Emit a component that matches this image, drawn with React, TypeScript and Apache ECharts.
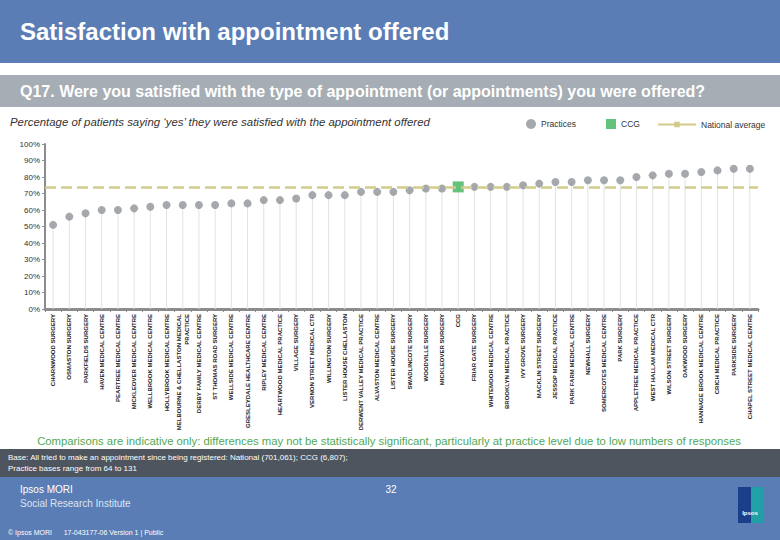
import React, { useEffect, useRef } from "react";
import * as echarts from "echarts";

const categories: string[] = [
  "CHARNWOOD SURGERY",
  "OSMASTON SURGERY",
  "PARKFIELDS SURGERY",
  "HAVEN MEDICAL CENTRE",
  "PEARTREE MEDICAL CENTRE",
  "MICKLEOVER MEDICAL CENTRE",
  "WELLBROOK MEDICAL CENTRE",
  "HOLLYBROOK MEDICAL CENTRE",
  "MELBOURNE & CHELLASTON MEDICAL\nPRACTICE",
  "DERBY FAMILY MEDICAL CENTRE",
  "ST THOMAS ROAD SURGERY",
  "WELLSIDE MEDICAL CENTRE",
  "GRESLEYDALE HEALTHCARE CENTRE",
  "RIPLEY MEDICAL CENTRE",
  "HEARTWOOD MEDICAL PRACTICE",
  "VILLAGE SURGERY",
  "VERNON STREET MEDICAL CTR",
  "WILLINGTON SURGERY",
  "LISTER HOUSE CHELLASTON",
  "DERWENT VALLEY MEDICAL PRACTICE",
  "ALVASTON MEDICAL CENTRE",
  "LISTER HOUSE SURGERY",
  "SWADLINCOTE SURGERY",
  "WOODVILLE SURGERY",
  "MICKLEOVER SURGERY",
  "CCG",
  "FRIAR GATE SURGERY",
  "WHITEMOOR MEDICAL CENTRE",
  "BROOKLYN MEDICAL PRACTICE",
  "IVY GROVE SURGERY",
  "MACKLIN STREET SURGERY",
  "JESSOP MEDICAL PRACTICE",
  "PARK FARM MEDICAL CENTRE",
  "NEWHALL SURGERY",
  "SOMERCOTES MEDICAL CENTRE",
  "PARK SURGERY",
  "APPLETREE MEDICAL PRACTICE",
  "WEST HALLAM MEDICAL CTR",
  "WILSON STREET SURGERY",
  "OAKWOOD SURGERY",
  "HANNAGE BROOK MEDICAL CENTRE",
  "CRICH MEDICAL PRACTICE",
  "PARKSIDE SURGERY",
  "CHAPEL STREET MEDICAL CENTRE",
];

// Practice results (null at the CCG position)
const practiceValues: (number | null)[] = [
  51, 56, 58, 60, 60, 61, 62, 63, 63, 63, 63, 64, 64, 66, 66, 67, 69, 69, 69,
  71, 71, 71, 72, 73, 73, null, 74, 74, 74, 75, 76, 77, 77, 78, 78, 78, 80, 81,
  82, 82, 83, 84, 85, 85,
];
const ccgName = "CCG";
const ccgValue = 74;
const nationalAverage = 74;

const FONT = '"Liberation Sans", Arial, sans-serif';

export default function App() {
  const ref = useRef<HTMLDivElement>(null);

  useEffect(() => {
    document.body.style.margin = "0";
    if (!ref.current) return;
    const chart = echarts.init(ref.current, null, { renderer: "svg" });

    const ccgIndex = categories.indexOf(ccgName);
    const ccgSeries = categories.map((_, i) => (i === ccgIndex ? ccgValue : null));
    const dropValues = categories.map((_, i) =>
      i === ccgIndex ? ccgValue : practiceValues[i]
    );

    const legendText = { color: "#333", fontSize: 8.5, fontFamily: FONT };

    chart.setOption({
      animation: false,
      backgroundColor: "#ffffff",
      textStyle: { fontFamily: FONT },
      grid: { left: 45, right: 22, top: 144, bottom: 231, containLabel: false },
      legend: [
        {
          data: ["Practices"],
          left: 526,
          top: 119,
          padding: 0,
          icon: "circle",
          itemWidth: 10,
          itemHeight: 10,
          itemGap: 4,
          textStyle: legendText,
        },
        {
          data: ["CCG"],
          left: 606,
          top: 119,
          padding: 0,
          icon: "rect",
          itemWidth: 10,
          itemHeight: 10,
          textStyle: legendText,
        },
        {
          data: ["National average"],
          left: 657,
          top: 120,
          padding: 0,
          itemWidth: 38,
          itemHeight: 7,
          textStyle: legendText,
        },
      ],
      xAxis: {
        type: "category",
        data: categories,
        boundaryGap: true,
        axisLine: { show: true, lineStyle: { color: "#8c8c8c", width: 3 } },
        axisTick: { show: true, length: 3, lineStyle: { color: "#8c8c8c" } },
        axisLabel: {
          interval: 0,
          rotate: 90,
          fontSize: 6,
          fontWeight: "bold",
          color: "#222",
          margin: 5,
          lineHeight: 8,
          fontFamily: FONT,
        },
        splitLine: { show: false },
      },
      yAxis: {
        type: "value",
        min: 0,
        max: 100,
        interval: 10,
        axisLine: { show: true, lineStyle: { color: "#8c8c8c", width: 2 } },
        axisTick: { show: true, length: 3, lineStyle: { color: "#8c8c8c" } },
        axisLabel: {
          formatter: "{value}%",
          fontSize: 8,
          color: "#333",
          margin: 5,
          fontFamily: FONT,
        },
        splitLine: { show: false },
      },
      series: [
        {
          name: "drop",
          type: "bar",
          data: dropValues,
          barWidth: 1,
          itemStyle: { color: "#e2e2e2" },
          silent: true,
          z: 1,
        },
        {
          name: "National average",
          type: "line",
          data: categories.map(() => null),
          symbol: "rect",
          symbolSize: 5,
          itemStyle: { color: "#d3cb8a" },
          lineStyle: { color: "#d3cb8a", width: 2.5 },
          z: 2,
          markLine: {
            silent: true,
            symbol: ["none", "none"],
            label: { show: false },
            lineStyle: { color: "#d3cb8a", width: 2.5, type: [11, 5] },
            data: [{ yAxis: nationalAverage }],
          },
        },
        {
          name: "Practices",
          type: "scatter",
          data: practiceValues,
          symbol: "circle",
          symbolSize: 8,
          itemStyle: { color: "#8e9398" },
          z: 3,
        },
        {
          name: "CCG",
          type: "scatter",
          data: ccgSeries,
          symbol: "rect",
          symbolSize: 11,
          itemStyle: { color: "#3db35a" },
          z: 4,
        },
      ],
      graphic: [
        { type: "rect", shape: { x: 0, y: 0, width: 780, height: 63 }, style: { fill: "#5a7db5" }, z: -1 },
        {
          type: "text",
          x: 20,
          y: 31,
          style: {
            text: "Satisfaction with appointment offered",
            fill: "#ffffff",
            fontSize: 24,
            fontWeight: "bold",
            fontFamily: FONT,
            verticalAlign: "middle",
          },
        },
        { type: "rect", shape: { x: 0, y: 75, width: 780, height: 32 }, style: { fill: "#a6adb4" }, z: -1 },
        {
          type: "text",
          x: 20,
          y: 91,
          style: {
            text: "Q17. Were you satisfied with the type of appointment (or appointments) you were offered?",
            fill: "#ffffff",
            fontSize: 16,
            fontWeight: "bold",
            fontFamily: FONT,
            verticalAlign: "middle",
          },
        },
        {
          type: "text",
          x: 10,
          y: 122,
          style: {
            text: "Percentage of patients saying \u2018yes\u2019 they were satisfied with the appointment offered",
            fill: "#333",
            fontSize: 11.4,
            fontStyle: "italic",
            fontFamily: FONT,
            verticalAlign: "middle",
          },
        },
        {
          type: "text",
          x: 389,
          y: 441,
          style: {
            text: "Comparisons are indicative only: differences may not be statistically significant, particularly at practice level due to low numbers of responses",
            fill: "#52a852",
            fontSize: 11.3,
            fontFamily: FONT,
            align: "center",
            verticalAlign: "middle",
          },
        },
        { type: "rect", shape: { x: 0, y: 449, width: 780, height: 28 }, style: { fill: "#4e555e" }, z: -1 },
        {
          type: "text",
          x: 8,
          y: 457,
          style: {
            text: "Base: All tried to make an appointment since being registered: National (701,061); CCG (6,807);",
            fill: "#ffffff",
            fontSize: 8,
            fontFamily: FONT,
            verticalAlign: "middle",
          },
        },
        {
          type: "text",
          x: 8,
          y: 468,
          style: {
            text: "Practice bases range from 64 to 131",
            fill: "#ffffff",
            fontSize: 8,
            fontFamily: FONT,
            verticalAlign: "middle",
          },
        },
        { type: "rect", shape: { x: 0, y: 477, width: 780, height: 63 }, style: { fill: "#5a7db5" }, z: -1 },
        {
          type: "text",
          x: 20,
          y: 489,
          style: { text: "Ipsos MORI", fill: "#ffffff", fontSize: 10, fontFamily: FONT, verticalAlign: "middle" },
        },
        {
          type: "text",
          x: 20,
          y: 503,
          style: { text: "Social Research Institute", fill: "#dde5f2", fontSize: 10, fontFamily: FONT, verticalAlign: "middle" },
        },
        {
          type: "text",
          x: 8,
          y: 532,
          style: {
            text: "\u00a9 Ipsos MORI      17-043177-06 Version 1 | Public",
            fill: "#ffffff",
            fontSize: 7,
            fontFamily: FONT,
            verticalAlign: "middle",
          },
        },
        {
          type: "text",
          x: 391,
          y: 489,
          style: { text: "32", fill: "#ffffff", fontSize: 10, fontFamily: FONT, align: "center", verticalAlign: "middle" },
        },
        { type: "rect", shape: { x: 738, y: 487, width: 25, height: 36 }, style: { fill: "#1b3f8a" } },
        { type: "rect", shape: { x: 751, y: 487, width: 12, height: 36 }, style: { fill: "#21a0a8" } },
        {
          type: "text",
          x: 750,
          y: 513,
          style: { text: "Ipsos", fill: "#ffffff", fontSize: 6, fontWeight: "bold", fontFamily: FONT, align: "center", verticalAlign: "middle" },
        },
      ],
    });

    return () => chart.dispose();
  }, []);

  return <div ref={ref} style={{ width: 780, height: 540 }} />;
}
